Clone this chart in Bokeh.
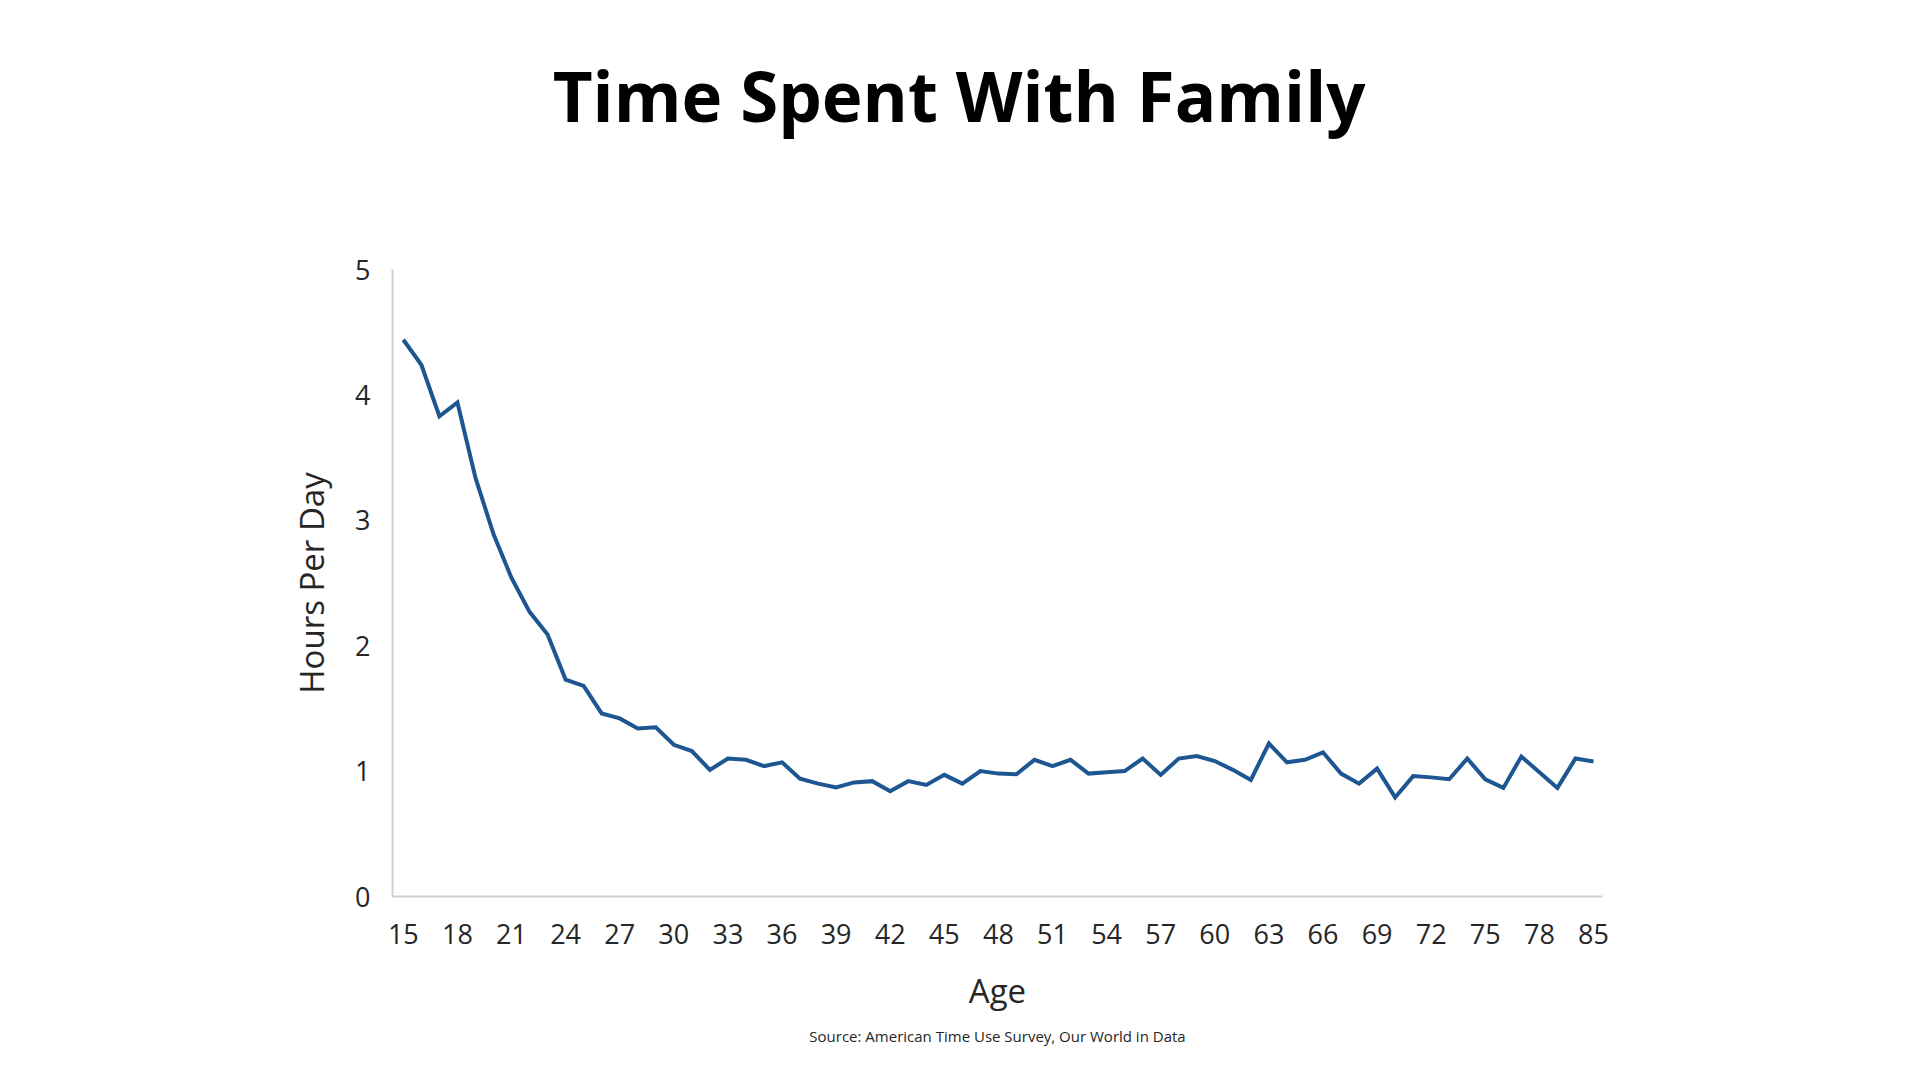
from bokeh.plotting import figure
from bokeh.models import FixedTicker, Range1d, Title, Label
from bokeh.layouts import column
from bokeh.embed import file_html
from bokeh.resources import INLINE

ages = [str(a) for a in range(15, 81)] + ["85"]
hours = [4.44, 4.24, 3.83, 3.94, 3.34, 2.89, 2.54, 2.27, 2.09, 1.73,
         1.68, 1.46, 1.42, 1.34, 1.35, 1.21, 1.16, 1.01, 1.10, 1.09,
         1.04, 1.07, 0.94, 0.90, 0.87, 0.91, 0.92, 0.84, 0.92, 0.89,
         0.97, 0.90, 1.00, 0.98, 0.975, 1.09, 1.04, 1.09, 0.98, 0.99,
         1.00, 1.10, 0.97, 1.10, 1.12, 1.08, 1.01, 0.93, 1.22, 1.07,
         1.09, 1.15, 0.98, 0.90, 1.02, 0.79, 0.96, 0.95, 0.935, 1.10,
         0.935, 0.866, 1.116, 0.99, 0.866, 1.10, 1.076]
idx = list(range(len(ages)))
tick_idx = list(range(0, len(ages), 3))
y_ticks = [0, 1, 2, 3, 4, 5]

title_text = "Time Spent With Family"
source_text = "Source: American Time Use Survey, Our World in Data"
FONT = "Open Sans"
TXT = "#262626"

W = 1904
TITLE_H = 188

# title strip
t = figure(width=W, height=TITLE_H, output_backend="svg", toolbar_location=None,
           x_range=Range1d(0, W), y_range=Range1d(0, TITLE_H),
           x_axis_type=None, y_axis_type=None, min_border=0)
t.outline_line_color = None
t.grid.grid_line_color = None
t.add_layout(Label(x=891.5, y=94, text=title_text, text_font=FONT,
                   text_font_size="69px", text_font_style="bold",
                   text_color="black", text_align="center",
                   text_baseline="alphabetic"))

p = figure(width=W, height=1064 - TITLE_H, output_backend="svg",
           toolbar_location=None,
           x_range=Range1d(-0.6, 66.5), y_range=Range1d(0, 5),
           min_border_left=392, min_border_right=302,
           min_border_top=269 - TITLE_H, min_border_bottom=168)
p.outline_line_color = None
p.grid.grid_line_color = None
p.background_fill_color = "white"
p.border_fill_color = "white"

p.line(idx, hours, line_color="#1d5690", line_width=4, line_join="miter")

xa = p.xaxis[0]
xa.ticker = FixedTicker(ticks=tick_idx)
xa.major_label_overrides = {i: ages[i] for i in tick_idx}
ya = p.yaxis[0]
ya.ticker = FixedTicker(ticks=y_ticks)
for ax in (xa, ya):
    ax.axis_line_color = "#d0d0d0"
    ax.axis_line_width = 2
    ax.major_tick_line_color = None
    ax.minor_tick_line_color = None
    ax.major_tick_in = 0
    ax.major_tick_out = 0
    ax.minor_tick_in = 0
    ax.minor_tick_out = 0
    ax.major_label_text_font = FONT
    ax.major_label_text_font_size = "27px"
    ax.major_label_text_color = TXT
    ax.axis_label_text_font = FONT
    ax.axis_label_text_font_size = "33px"
    ax.axis_label_text_font_style = "normal"
    ax.axis_label_text_color = TXT

xa.axis_label = "Age"
xa.major_label_standoff = 27
xa.axis_label_standoff = 21
ya.axis_label = "Hours Per Day"
ya.major_label_standoff = 22
ya.axis_label_standoff = 18

src = Title(text=source_text, align="center", text_font=FONT,
            text_font_size="15px", text_font_style="normal", text_color=TXT,
            standoff=17)
p.add_layout(src, "below")

layout = column(t, p, spacing=0)
open("out.html", "w").write(file_html(layout, INLINE))
